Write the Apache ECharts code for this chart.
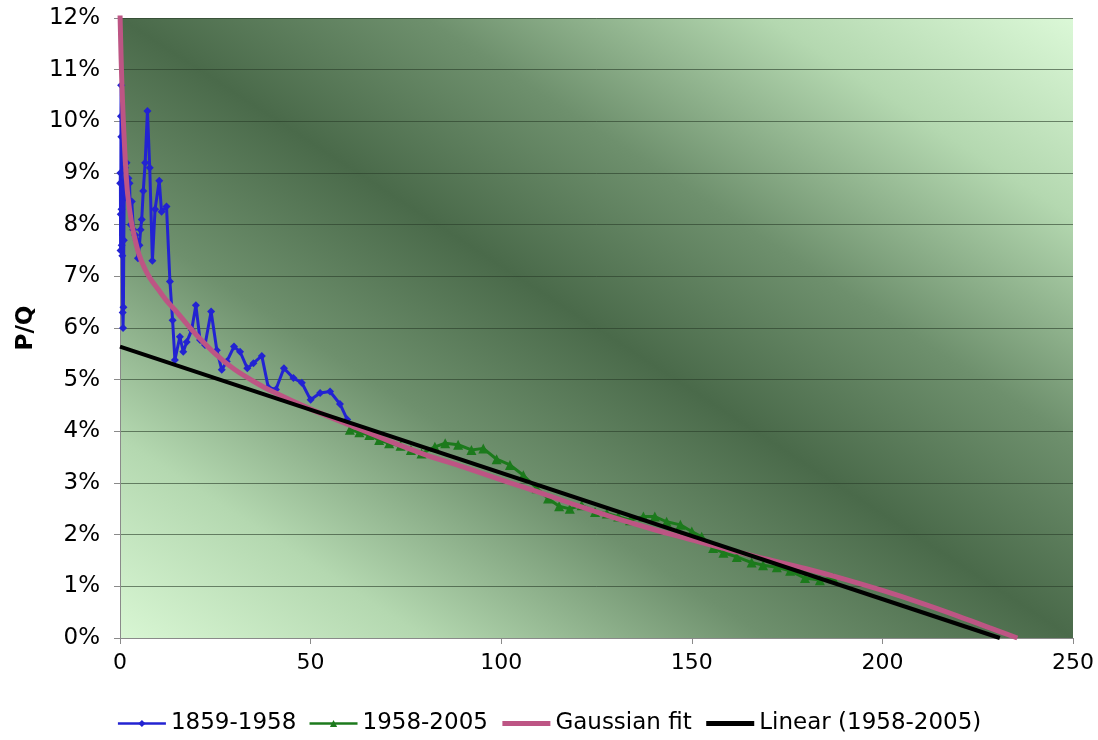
<!DOCTYPE html>
<html>
<head>
<meta charset="utf-8">
<script src="https://cdn.jsdelivr.net/npm/echarts@6/dist/echarts.min.js"></script>
<style>
html,body{margin:0;padding:0;background:#fff;}
#chart{width:1098px;height:740px;}
</style>
</head>
<body>
<div id="chart"></div>
<script>
// ---- data (x = cumulative production, y = P/Q in %) ----
var seriesNames = ['1859-1958', '1958-2005', 'Gaussian fit', 'Linear (1958-2005)'];
var xTicks = [0, 50, 100, 150, 200, 250];
var yTicks = [0,1,2,3,4,5,6,7,8,9,10,11,12];

var early = [
  [0.05,8.8],[0.1,9.0],[0.15,7.5],[0.2,8.2],[0.25,10.1],[0.3,10.7],[0.35,9.7],[0.4,8.3],
  [0.45,7.6],[0.5,8.8],[0.6,7.4],[0.7,6.3],[0.8,6.0],[0.9,6.4],[1.0,7.7],[1.1,8.6],
  [1.3,9.1],[1.5,8.8],[1.7,9.2],[1.9,8.5],[2.2,8.9],[2.5,8.8],[2.8,8.0],[3.1,8.45],
  [3.5,7.9],[4.0,7.8],[4.4,7.7],[4.7,7.35],[5.1,7.6],[5.4,7.9],[5.7,8.1],[6.1,8.65],
  [6.6,9.2],[7.2,10.2],[7.8,9.1],[8.5,7.3],[9.2,8.3],[10.3,8.85],[10.9,8.25],[12.2,8.35],
  [13.1,6.9],[13.8,6.15],[14.4,5.38],[15.7,5.83],[16.6,5.54],[17.5,5.73],[18.8,5.96],
  [19.9,6.44],[21,5.77],[22.3,5.67],[23.9,6.32],[25.4,5.57],[26.7,5.19],[28,5.35],
  [29.9,5.64],[31.5,5.54],[33.4,5.22],[35,5.32],[37.2,5.46],[38.9,4.85],[40.9,4.81],
  [43,5.22],[45.5,5.03],[47.7,4.94],[50,4.61],[52.5,4.74],[55.1,4.77],[57.7,4.53],[59.6,4.23]
];

var modern = [
  [60.3,4.03],[62.8,3.98],[65.4,3.93],[68,3.83],[70.6,3.77],[73.6,3.72],[76.3,3.64],
  [79.1,3.57],[82.6,3.70],[85.3,3.77],[88.7,3.74],[92.2,3.64],[95.3,3.67],[98.8,3.46],
  [102.3,3.35],[105.8,3.15],[109.3,2.90],[112.3,2.70],[115.2,2.55],[118,2.50],[121.1,2.57],
  [124.6,2.44],[127.7,2.41],[130.7,2.35],[133.8,2.28],[137.3,2.35],[140.3,2.35],[143.4,2.25],
  [147,2.19],[150,2.06],[152.6,1.96],[155.6,1.74],[158.3,1.65],[161.8,1.57],[165.7,1.46],
  [168.7,1.41],[172.3,1.37],[175.8,1.30],[179.7,1.16],[183.6,1.12],[187.1,1.16]
];

var gaussFit = [
  [0,12.1],[0.3,11.2],[0.6,10.5],[1,9.8],[1.5,9.1],[2,8.6],[3,8.05],[4,7.7],[5,7.42],
  [6.5,7.15],[8,6.95],[10,6.75],[12,6.55],[15,6.3],[17.5,6.08],[20,5.87],[25,5.5],[30,5.2],
  [35,4.97],[40,4.77],[50,4.43],[60,4.13],[70,3.83],[80,3.55],[90,3.31],[100,3.06],[110,2.82],
  [120,2.56],[130,2.32],[140,2.1],[150,1.9],[160,1.7],[170,1.52],[180,1.34],[190,1.14],
  [200,0.92],[210,0.68],[220,0.42],[228,0.2],[235.4,0]
];

var linearFit = [[0,5.64],[230.8,0]];

// ---- chart ----
var FONT = 'DejaVu Sans';
var chart = echarts.init(document.getElementById('chart'), null, {renderer:'canvas'});
var bg = new echarts.graphic.LinearGradient(0.203, 1.202, 0.797, -0.202, [
  {offset:0, color:'#d8f6d3'},
  {offset:0.16, color:'#b4d8b0'},
  {offset:0.34, color:'#6e906d'},
  {offset:0.5, color:'#4a6a4a'},
  {offset:0.66, color:'#6e906d'},
  {offset:0.84, color:'#b4d8b0'},
  {offset:1, color:'#dbf8d7'}
]);

chart.setOption({
  animation:false,
  backgroundColor:'#ffffff',
  textStyle:{fontFamily:FONT},
  grid:{left:120, right:25, top:18, bottom:102, show:true, backgroundColor:bg, borderWidth:0},
  legend:{
    bottom:0, left:'center',
    itemWidth:48, itemHeight:9, itemGap:12,
    textStyle:{fontFamily:FONT, fontSize:23, color:'#000'},
    data:[
      {name:seriesNames[0], lineStyle:{width:2.5}},
      {name:seriesNames[1], lineStyle:{width:2.5}},
      {name:seriesNames[2], itemStyle:{opacity:0}, lineStyle:{width:5}},
      {name:seriesNames[3], itemStyle:{opacity:0}, lineStyle:{width:5}}
    ]
  },
  xAxis:{
    type:'value', min:xTicks[0], max:xTicks[xTicks.length-1], interval:50,
    axisLine:{show:true, lineStyle:{color:'#8a8a8a', width:1}},
    axisTick:{show:true, length:6, lineStyle:{color:'#8a8a8a'}},
    axisLabel:{fontFamily:FONT, fontSize:22, color:'#000', margin:14},
    splitLine:{show:false}
  },
  yAxis:{
    type:'value', min:yTicks[0], max:yTicks[yTicks.length-1], interval:1,
    name:'P/Q', nameLocation:'middle', nameGap:77,
    nameTextStyle:{fontFamily:FONT, fontSize:23, fontWeight:'bold', color:'#000'},
    axisLine:{show:true, lineStyle:{color:'#8a8a8a', width:1}},
    axisTick:{show:true, length:6, lineStyle:{color:'#8a8a8a'}},
    axisLabel:{fontFamily:FONT, fontSize:23, color:'#000', margin:20, formatter:'{value}%'},
    splitLine:{show:true, lineStyle:{color:'rgba(40,60,40,0.6)', width:1}}
  },
  series:[
    {name:seriesNames[0], type:'line', data:early, z:3,
      symbol:'diamond', symbolSize:8, showSymbol:true,
      lineStyle:{color:'#2323d2', width:3}, itemStyle:{color:'#2323d2'}},
    {name:seriesNames[1], type:'line', data:modern, z:3,
      symbol:'triangle', symbolSize:10, showSymbol:true,
      lineStyle:{color:'#1c7a1c', width:3}, itemStyle:{color:'#1c7a1c'}},
    {name:seriesNames[2], type:'line', data:gaussFit, z:4, smooth:0.3,
      symbol:'none', lineStyle:{color:'#bd5584', width:5}, itemStyle:{color:'#bd5584'}},
    {name:seriesNames[3], type:'line', data:linearFit, z:5,
      symbol:'none', lineStyle:{color:'#000000', width:4}, itemStyle:{color:'#000000'}}
  ]
});
</script>
</body>
</html>
